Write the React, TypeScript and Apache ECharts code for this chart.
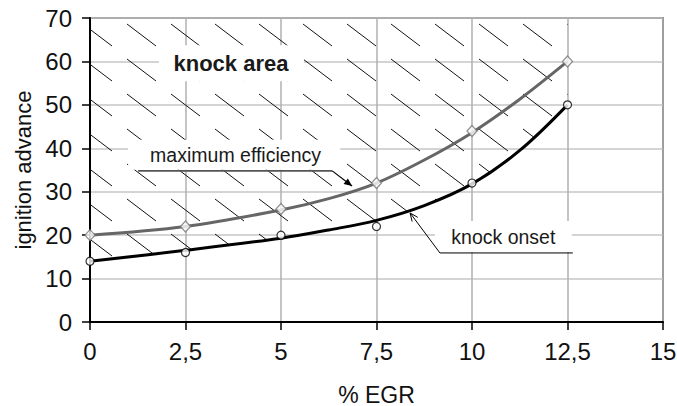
import React, { useEffect, useRef } from "react";
import * as echarts from "echarts";

// ---- data ----
const egrPoints = [0, 2.5, 5, 7.5, 10, 12.5];
const maxEffMeasured = [20, 22, 26, 32, 44, 60];
const knockMeasured = [14, 16, 20, 22, 32, 50];

const trendX = [0, 2.5, 5, 6.25, 7.5, 8.75, 10, 11.25, 12.5];
const maxEffTrend = [20, 22, 25.8, 28.4, 32, 37.3, 43.6, 51.3, 60];
const knockTrend = [14, 16.5, 19.3, 21.2, 23.4, 26.8, 31.8, 39.5, 50];

const xTickLabels = ["0", "2,5", "5", "7,5", "10", "12,5", "15"];
const yTickLabels = ["0", "10", "20", "30", "40", "50", "60", "70"];

const labelKnockArea = "knock area";
const labelMaxEff = "maximum efficiency";
const labelKnockOnset = "knock onset";

const FONT = "'Liberation Sans', Arial, Helvetica, sans-serif";

const hatchSvg =
  "<svg xmlns='http://www.w3.org/2000/svg' width='44' height='35'>" +
  "<path d='M39 24L68 46M-5 24L24 46M39 -11L68 11M-5 -11L24 11' stroke='#111' stroke-width='1' fill='none'/></svg>";
const hatchUrl = "data:image/svg+xml;charset=utf-8," + encodeURIComponent(hatchSvg);

function arrowHead(from: number[], tip: number[], len: number, half: number) {
  const dx = tip[0] - from[0];
  const dy = tip[1] - from[1];
  const L = Math.hypot(dx, dy);
  const ux = dx / L, uy = dy / L;
  const nx = -uy, ny = ux;
  const bx = tip[0] - ux * len, by = tip[1] - uy * len;
  return [
    [bx + nx * half, by + ny * half],
    [tip[0], tip[1]],
    [bx - nx * half, by - ny * half],
  ];
}

export default function App() {
  const ref = useRef<HTMLDivElement>(null);
  useEffect(() => {
    const chart = echarts.init(ref.current!, null, { renderer: "svg" });
    const fmtX = (v: number) => xTickLabels[Math.round(v / 2.5)] ?? String(v);
    const fmtY = (v: number) => yTickLabels[Math.round(v / 10)] ?? String(v);
    const option: any = {
      animation: false,
      backgroundColor: "#fff",
      textStyle: { fontFamily: FONT },
      grid: {
        left: 90,
        right: 14,
        top: 18,
        bottom: 84,
        containLabel: false,
        outerBoundsMode: "none",
        show: true,
        borderColor: "#3a3a3a",
        borderWidth: 1.5,
        backgroundColor: "transparent",
      },
      xAxis: {
        type: "value",
        min: 0,
        max: 15,
        interval: 2.5,
        name: "% EGR",
        nameLocation: "middle",
        nameGap: 61,
        nameTextStyle: { fontSize: 23, color: "#111", fontFamily: FONT },
        axisLine: { lineStyle: { color: "#000", width: 2 } },
        axisTick: { show: true, length: 8, lineStyle: { color: "#000", width: 1.5 } },
        axisLabel: { fontSize: 24, color: "#111", margin: 17, formatter: fmtX, fontFamily: FONT },
        splitLine: { show: true, lineStyle: { color: "#b0b0b0", width: 1.5 } },
      },
      yAxis: {
        type: "value",
        min: 0,
        max: 70,
        interval: 10,
        name: "ignition advance",
        nameLocation: "middle",
        nameGap: 54,
        nameTextStyle: { fontSize: 22, color: "#111", fontFamily: FONT },
        axisLine: { show: true, lineStyle: { color: "#000", width: 2 } },
        axisTick: { show: true, length: 8, lineStyle: { color: "#000", width: 1.5 } },
        axisLabel: { fontSize: 24, color: "#111", margin: 18, formatter: fmtY, fontFamily: FONT },
        splitLine: { show: true, lineStyle: { color: "#c6c6c6", width: 1.5 } },
      },
      series: [
        {
          name: "knock area",
          type: "line",
          data: trendX.map((x, i) => [x, knockTrend[i]]),
          smooth: 0.35,
          symbol: "none",
          silent: true,
          z: 1,
          lineStyle: { width: 0, opacity: 0 },
          areaStyle: {
            origin: "end",
            opacity: 1,
            color: { image: hatchUrl, repeat: "repeat", imageWidth: 44, imageHeight: 35 },
          },
        },
        {
          name: "maximum efficiency trend",
          type: "line",
          data: trendX.map((x, i) => [x, maxEffTrend[i]]),
          smooth: 0.35,
          symbol: "none",
          z: 3,
          lineStyle: { color: "#666666", width: 3 },
        },
        {
          name: "knock onset trend",
          type: "line",
          data: trendX.map((x, i) => [x, knockTrend[i]]),
          smooth: 0.35,
          symbol: "none",
          z: 3,
          lineStyle: { color: "#000", width: 3 },
        },
        {
          name: "maximum efficiency",
          type: "scatter",
          data: egrPoints.map((x, i) => [x, maxEffMeasured[i]]),
          symbol: "diamond",
          symbolSize: [10, 11],
          z: 4,
          itemStyle: { color: "#fff", borderColor: "#777", borderWidth: 1.3 },
        },
        {
          name: "knock onset",
          type: "scatter",
          data: egrPoints.map((x, i) => [x, knockMeasured[i]]),
          symbol: "circle",
          symbolSize: 8,
          z: 4,
          itemStyle: { color: "#fff", borderColor: "#000", borderWidth: 1.2 },
        },
      ],
    };
    chart.setOption(option);

    const P = (x: number, y: number) =>
      chart.convertToPixel({ gridIndex: 0 }, [x, y]) as number[];

    // annotation anchors (data coordinates)
    const kaC = P(3.69, 59.6);
    const meC = P(3.81, 38.4);
    const meU1 = P(1.26, 34.8);
    const meU2 = P(6.34, 34.8);
    const meTip = P(6.86, 31.3);
    const koC = P(10.82, 19.6);
    const koU1 = P(9.16, 15.9);
    const koU2 = P(12.64, 15.9);
    const koTip = P(8.38, 25.1);

    const graphic: any[] = [
      // white boxes
      { type: "rect", z: 2, silent: true, shape: { x: kaC[0] - 72, y: kaC[1] - 18, width: 145, height: 36 }, style: { fill: "#fff" } },
      { type: "rect", z: 2, silent: true, shape: { x: meU1[0] - 10, y: meU1[1] - 31, width: meU2[0] - meU1[0] + 18, height: 30 }, style: { fill: "#fff" } },
      { type: "rect", z: 2, silent: true, shape: { x: koU1[0] - 5, y: koU1[1] - 32, width: koU2[0] - koU1[0] + 4, height: 31 }, style: { fill: "#fff" } },
      // texts
      { type: "text", z: 5, x: kaC[0], y: kaC[1], style: { text: labelKnockArea, align: "center", verticalAlign: "middle", fill: "#1a1a1a", font: `bold 22px ${FONT}` } },
      { type: "text", z: 5, x: meC[0], y: meC[1], style: { text: labelMaxEff, align: "center", verticalAlign: "middle", fill: "#1a1a1a", font: `19.5px ${FONT}` } },
      { type: "text", z: 5, x: koC[0], y: koC[1], style: { text: labelKnockOnset, align: "center", verticalAlign: "middle", fill: "#1a1a1a", font: `19.5px ${FONT}` } },
      // max efficiency leader
      { type: "line", z: 5, shape: { x1: meU1[0], y1: meU1[1], x2: meU2[0], y2: meU2[1] }, style: { stroke: "#555", lineWidth: 1.6 } },
      { type: "line", z: 5, shape: { x1: meU2[0], y1: meU2[1], x2: meTip[0], y2: meTip[1] }, style: { stroke: "#000", lineWidth: 1.2 } },
      { type: "polygon", z: 5, shape: { points: arrowHead(meU2, meTip, 8, 3.5) }, style: { fill: "#000" } },
      // knock onset leader
      { type: "polyline", z: 5, shape: { points: [koU2, koU1, koTip] }, style: { stroke: "#000", lineWidth: 1, fill: null } },
      { type: "polyline", z: 5, shape: { points: arrowHead(koU1, koTip, 8, 3.5) }, style: { stroke: "#000", lineWidth: 1, fill: null } },
    ];
    chart.setOption({ graphic });

    return () => chart.dispose();
  }, []);
  return (
    <div
      ref={ref}
      style={{ position: "absolute", left: 0, top: 0, width: 677, height: 406 }}
    />
  );
}
